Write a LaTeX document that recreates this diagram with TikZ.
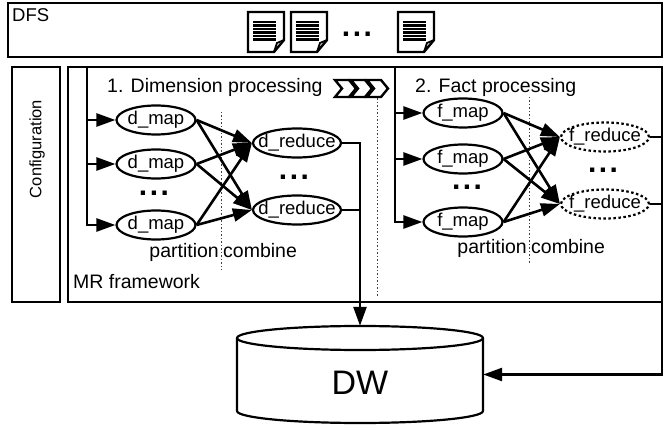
\documentclass[tikz,border=0pt]{standalone}
\usepackage{fontspec}
\setmainfont{Liberation Sans}
\usetikzlibrary{arrows.meta,shapes.geometric}
\newcommand\mkz[1]{\makebox[0pt]{#1}}
\tikzset{
  docico/.pic={
    \draw[line width=2.4pt,line join=miter,fill=white] (0,0) -- (36,0) -- (36,28) -- (26,40) -- (0,40) -- cycle;
    \draw[line width=1.8pt] (26,40) -- (29,31) -- (36,28);
    \foreach \yy in {10,13.5,17,20.5,24,27.5} \draw[line width=2.2pt] (5,\yy) -- (28,\yy);
  }
}
\begin{document}
\begin{tikzpicture}[x=1pt,y=-1pt,
  box/.style={draw,line width=2.2pt},
  proc/.style={ellipse,draw,fill=white,line width=2.2pt,minimum height=29pt,inner sep=0pt,font=\fontsize{18.5}{20}\selectfont},
  mapn/.style={proc,minimum width=79pt},
  redn/.style={proc,minimum width=88pt},
  fredn/.style={redn,dash pattern=on 2.5pt off 2.5pt},
  lbl/.style={font=\fontsize{19.5}{22}\selectfont,inner sep=0pt},
  conn/.style={line width=2.6pt,-{Triangle[length=19pt,width=13pt]}},
  wire/.style={line width=2.6pt},
  guide/.style={line width=0.8pt,dash pattern=on 1.5pt off 2pt,black!75},
  dotsn/.style={font=\fontsize{30}{30}\selectfont\bfseries,inner sep=0pt},
  chev/.style={line width=2.4pt,fill=white,line join=miter},
]
\fill[white] (0,0) rectangle (665,425);
\useasboundingbox (0,0) rectangle (665,425);

% DFS
\draw[box] (8,3) rectangle (662,57);
\node[lbl,anchor=base west,font=\fontsize{18.5}{20}\selectfont] (dfs) at (12,22) {DFS};
\pic at (248,12) {docico};
\pic at (291,12) {docico};
\pic at (398,12) {docico};
\node[dotsn] (ddots) at (357,34) {.\kern2.5pt.\kern2.5pt.};

% Configuration and MR boxes
\draw[box] (12,67) rectangle (60,302);
\node[lbl,rotate=90,font=\fontsize{16.5}{20}\selectfont] (cfg) at (37,149) {Configuration};
\draw[box] (68,67) rectangle (662,302);

% guides
\draw[guide] (221,112) -- (221,270);
\draw[guide] (377,95) -- (377,298);
\draw[guide] (529,97) -- (529,263);

% titles
\node[lbl,anchor=base west] (t1) at (107,93) {1. Dimension processing};
\node[lbl,anchor=base west] (t2) at (415,93) {2. Fact processing};
\foreach \x in {335,351,367}
  \draw[chev] (\x,80) -- ++(14,0) -- ++(7,8.5) -- ++(-7,8.5) -- ++(-14,0) -- ++(7,-8.5) -- cycle;
\node[lbl,anchor=base east] (p1) at (219,258) {partition};
\node[lbl,anchor=base west] (c1) at (223,258) {combine};
\node[lbl,anchor=base east] (p2) at (527,254) {partition};
\node[lbl,anchor=base west] (c2) at (531,254) {combine};
\node[lbl,anchor=base west] (mr) at (73,288) {MR framework};

% dimension nodes
\node[mapn] (dm1) at (156,120) {\mkz{d\_map}};
\node[mapn] (dm2) at (156,164) {\mkz{d\_map}};
\node[mapn] (dm3) at (156,225) {\mkz{d\_map}};
\node[redn] (dr1) at (297,143) {\mkz{d\_reduce}};
\node[redn] (dr2) at (297,210) {\mkz{d\_reduce}};
\node[dotsn] (dd1) at (154,193) {.\kern2.5pt.\kern2.5pt.};
\node[dotsn] (dd2) at (294,177) {.\kern2.5pt.\kern2.5pt.};

% fact nodes
\node[mapn] (fm1) at (463,113) {\mkz{f\_map}};
\node[mapn] (fm2) at (463,159) {\mkz{f\_map}};
\node[mapn] (fm3) at (463,222) {\mkz{f\_map}};
\node[fredn] (fr1) at (605,137) {\mkz{f\_reduce}};
\node[fredn] (fr2) at (605,204) {\mkz{f\_reduce}};
\node[dotsn] (fd1) at (467,187) {.\kern2.5pt.\kern2.5pt.};
\node[dotsn] (fd2) at (603,170) {.\kern2.5pt.\kern2.5pt.};

% DW cylinder
\node[minimum width=246pt,minimum height=97pt,inner sep=0pt] (dw) at (360,374.5) {};
\draw[line width=2.2pt,fill=white] (237,338) -- (237,411) arc[start angle=180,end angle=0,x radius=123,y radius=12] -- (483,338);
\draw[line width=2.2pt,fill=white] (360,338) ellipse[x radius=123,y radius=12];
\node[font=\fontsize{34}{36}\selectfont,inner sep=0pt] (dwl) at (360,383) {DW};

% rails
\coordinate (drail) at (87,67);
\draw[conn] (drail) |- (dm3.west);
\draw[conn] (drail |- dm1) -- (dm1.west);
\draw[conn] (drail |- dm2) -- (dm2.west);
\coordinate (frail) at (395,67);
\draw[conn] (frail) |- (fm3.west);
\draw[conn] (frail |- fm1) -- (fm1.west);
\draw[conn] (frail |- fm2) -- (fm2.west);

% map -> reduce
\foreach \m in {dm1,dm2,dm3} {
  \draw[conn] (\m.east) -- (dr1.west);
  \draw[conn] (\m.east) -- (dr2.west);
}
\foreach \m in {fm1,fm2,fm3} {
  \draw[conn] (\m.east) -- (fr1.west);
  \draw[conn] (\m.east) -- (fr2.west);
}

% outputs
\draw[conn] (dr1.east) -| (dw.north);
\draw[wire] (dr2.east) -- (dr2.east -| dw.north);
\coordinate (fx) at (662,137);
\draw[conn] (fr1.east) -- (fx) |- (dw.east);
\draw[wire] (fr2.east) -- (fr2.east -| fx);
\end{tikzpicture}
\end{document}
